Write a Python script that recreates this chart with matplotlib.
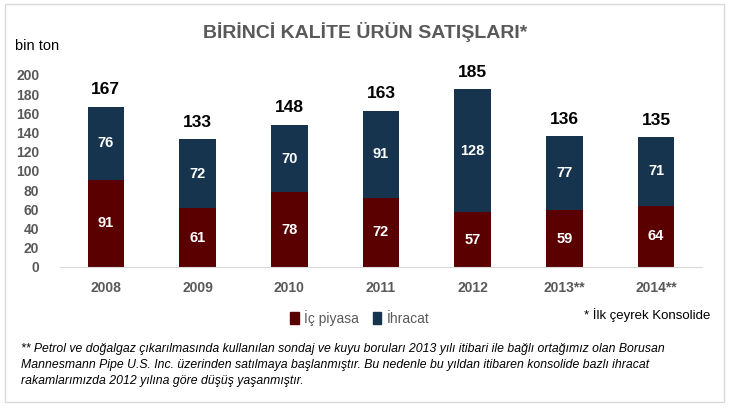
import matplotlib.pyplot as plt
from matplotlib.patches import Rectangle, Patch

# Data (bin ton)
years = ['2008', '2009', '2010', '2011', '2012', '2013**', '2014**']
ic_piyasa = [91, 61, 78, 72, 57, 59, 64]
ihracat = [76, 72, 70, 91, 128, 77, 71]
totals = [167, 133, 148, 163, 185, 136, 135]
yticks = [0, 20, 40, 60, 80, 100, 120, 140, 160, 180, 200]

red = '#5a0000'
navy = '#17344f'
gray = '#595959'

plt.rcParams['font.family'] = ['Liberation Sans', 'DejaVu Sans']

fig = plt.figure(figsize=(7.31, 4.09), dpi=100)
ax = fig.add_axes([60 / 731, 1 - 267 / 409, 642 / 731, 192 / 409])

x = list(range(len(years)))
ax.bar(x, ic_piyasa, width=0.4, color=red, label='İç piyasa')
ax.bar(x, ihracat, width=0.4, bottom=ic_piyasa, color=navy, label='İhracat')

for i in x:
    ax.text(i, ic_piyasa[i] / 2, str(ic_piyasa[i]), ha='center', va='center',
            color='white', fontsize=10.5, fontweight='bold')
    ax.text(i, ic_piyasa[i] + ihracat[i] / 2, str(ihracat[i]), ha='center', va='center',
            color='white', fontsize=10.5, fontweight='bold')
    ax.annotate(str(totals[i]), (i, ic_piyasa[i] + ihracat[i]), xytext=(0, 7),
                textcoords='offset points', ha='center', va='bottom',
                fontsize=12.5, fontweight='bold', color='black', annotation_clip=False)

ax.set_xlim(-0.5, 6.5)
ax.set_ylim(0, 200)
ax.set_xticks(x)
ax.set_xticklabels(years, fontsize=10, fontweight='bold', color=gray)
ax.set_yticks(yticks)
ax.set_yticklabels([str(v) for v in yticks], fontsize=10, fontweight='bold', color=gray)
ax.tick_params(axis='both', length=0)
ax.tick_params(axis='y', pad=15)
ax.tick_params(axis='x', pad=10)
for s in ['top', 'right', 'left']:
    ax.spines[s].set_visible(False)
ax.spines['bottom'].set_color('#d9d9d9')

fig.text(365 / 731, 1 - 32 / 409, 'BİRİNCİ KALİTE ÜRÜN SATIŞLARI*', ha='center', va='center',
         fontsize=14, fontweight='bold', color=gray)
fig.text(15 / 731, 1 - 46 / 409, 'bin ton', ha='left', va='center', fontsize=10.5, color='black')

handles = [Patch(color=red, label='İç piyasa'), Patch(color=navy, label='İhracat')]
fig.legend(handles=handles, loc='center', bbox_to_anchor=(360 / 731, 1 - 318 / 409), ncol=2,
           frameon=False, fontsize=10, handlelength=0.6, handleheight=1.0,
           handletextpad=0.4, columnspacing=1.0, labelcolor=gray)

fig.text(710 / 731, 1 - 315 / 409, '* İlk çeyrek Konsolide', ha='right', va='center',
         fontsize=9.5, color='black')

notes = ("** Petrol ve doğalgaz çıkarılmasında kullanılan sondaj ve kuyu boruları 2013 yılı itibari ile bağlı ortağımız olan Borusan\n"
         "Mannesmann Pipe U.S. Inc. üzerinden satılmaya başlanmıştır. Bu nedenle bu yıldan itibaren konsolide bazlı ihracat\n"
         "rakamlarımızda 2012 yılına göre düşüş yaşanmıştır.")
fig.text(21 / 731, 1 - 343 / 409, notes, ha='left', va='top', fontsize=8.8, style='italic',
         color='black', linespacing=1.45)

fig.patches.append(Rectangle((5 / 731, 1 - 402 / 409), 719 / 731, 398 / 409,
                             transform=fig.transFigure, fill=False, edgecolor='#d9d9d9', lw=1))

fig.savefig('out.png', dpi=100)
